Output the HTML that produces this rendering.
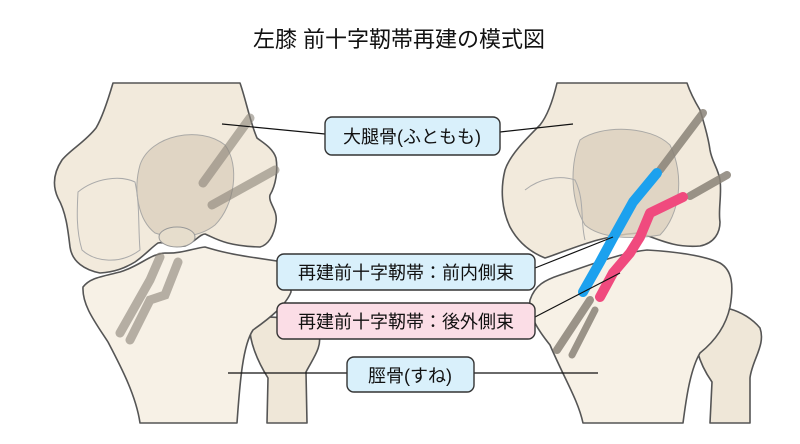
<!DOCTYPE html>
<html><head><meta charset="utf-8"><style>
body{margin:0;background:#fff;}
svg{display:block;}
text{font-family:"Liberation Sans","Noto Sans CJK JP",sans-serif;}
</style></head><body>
<svg width="800" height="444" viewBox="0 0 800 444" xmlns="http://www.w3.org/2000/svg">
<rect width="800" height="444" fill="#fff"/>
<text x="399" y="47" font-size="22" text-anchor="middle" fill="#111">左膝 前十字靭帯再建の模式図</text>

<!-- LEFT KNEE -->
<g stroke="#555" stroke-width="1.6" stroke-linejoin="round">
 <path d="M250,322 C262,312 300,318 318,333 C324,345 312,360 306,372 L307,423 L267,423 L268,378 C258,362 248,340 250,322 Z" fill="#efe7d8"/>
 <path d="M83,287 C90,278 100,277 120,272 C140,266 150,254 165,253 C180,254 195,248 205,247 C215,250 225,253 250,257 L290,263 L291,292 C286,305 270,318 253,330 C243,345 240,380 237,423 L140,423 C136,395 120,365 108,342 C95,322 82,305 83,287 Z" fill="#f7f1e6"/>
 <path d="M113,83 C108,100 102,118 96,128 C85,142 70,150 62,160 C54,172 52,185 58,198 C66,212 68,230 70,247 C72,262 85,270 100,273 C115,272 125,268 135,262 C145,255 152,247 158,243 C165,241 175,248 185,246 C195,242 200,234 205,234 C215,238 225,246 260,247 C268,245 274,236 276,222 C278,210 268,203 270,195 C276,185 278,170 276,158 C273,148 262,142 257,138 C250,122 246,100 240,83 Z" fill="#f2eadc"/>
</g>
<path d="M140,165 C150,135 200,125 225,145 C240,165 235,205 215,225 C200,237 175,240 155,233 C138,220 133,190 140,165 Z" fill="#dcd1bf" opacity="0.8" stroke="#999" stroke-width="1"/>
<path d="M78,192 C95,178 120,175 135,182 C140,205 138,225 140,250 C120,265 95,262 82,250 C76,230 77,210 78,192 Z" fill="none" stroke="#aaa" stroke-width="1"/>
<ellipse cx="177" cy="237" rx="18" ry="10" fill="#e6ddcc" stroke="#999" stroke-width="1"/>
<g stroke="#8a8378" stroke-width="9" stroke-linecap="round" opacity="0.6" fill="none">
 <line x1="203" y1="183" x2="250" y2="118"/>
 <line x1="212" y1="205" x2="275" y2="170"/>
 <path d="M160,257 L150,280 L120,333"/>
 <path d="M178,262 L165,295 L150,300 L130,340"/>
</g>

<!-- RIGHT KNEE -->
<g stroke="#555" stroke-width="1.6" stroke-linejoin="round">
 <path d="M697,313 C715,300 745,310 760,328 C766,345 752,360 750,378 L750,423 L710,423 L712,382 C700,365 690,340 697,313 Z" fill="#efe7d8"/>
 <path d="M530,300 C535,285 545,280 560,275 C590,265 620,253 647,250 C680,252 705,256 720,263 C732,270 734,285 730,307 C725,330 710,345 700,353 C690,370 686,400 683,423 L583,423 C578,400 565,380 550,345 C538,330 528,315 530,300 Z" fill="#f7f1e6"/>
 <path d="M557,83 C553,100 548,115 540,125 C525,140 510,155 505,170 C500,190 502,210 510,227 C518,242 530,252 545,258 C570,250 600,235 640,233 C660,240 675,248 700,246 C715,243 720,232 720,222 C718,210 722,195 720,180 C718,168 712,162 710,150 C708,135 703,120 700,110 C694,100 690,92 687,83 Z" fill="#f2eadc"/>
</g>
<path d="M580,140 C600,125 650,125 670,145 C685,175 680,215 660,235 C630,240 600,238 585,225 C570,200 570,165 580,140 Z" fill="#dcd1bf" opacity="0.8" stroke="#999" stroke-width="1"/>
<path d="M525,190 C540,178 560,175 575,180 C585,200 580,220 585,240" fill="none" stroke="#aaa" stroke-width="1"/>
<g stroke="#8a8378" stroke-linecap="round" fill="none" opacity="0.85">
 <line x1="703" y1="113" x2="660" y2="170" stroke-width="8"/>
 <line x1="727" y1="175" x2="690" y2="196" stroke-width="8"/>
 <line x1="590" y1="300" x2="557" y2="350" stroke-width="8"/>
 <line x1="595" y1="310" x2="572" y2="355" stroke-width="7"/>
</g>
<path d="M657,173 L633,202 L613,238 L600,262 L583,292" fill="none" stroke="#1ca1ee" stroke-width="10" stroke-linecap="round" stroke-linejoin="round"/>
<path d="M683,197 L650,213 L640,237 L630,253 L613,273 L600,297" fill="none" stroke="#f04a7e" stroke-width="10" stroke-linecap="round" stroke-linejoin="round"/>

<g stroke="#111" stroke-width="1.2">
 <line x1="222" y1="124" x2="325" y2="134"/>
 <line x1="500" y1="132" x2="573" y2="124"/>
 <line x1="535" y1="268" x2="613" y2="237"/>
 <line x1="535" y1="317" x2="620" y2="273"/>
 <line x1="228" y1="373" x2="347" y2="373"/>
 <line x1="474" y1="373" x2="598" y2="373"/>
</g>

<g stroke="#333" stroke-width="1.4">
 <rect x="325" y="117" width="175" height="38" rx="7" fill="#d9f0fb"/>
 <rect x="277" y="254" width="258" height="36" rx="7" fill="#d9f0fb"/>
 <rect x="277" y="303" width="258" height="36" rx="7" fill="#fbdde6"/>
 <rect x="347" y="357" width="127" height="35" rx="7" fill="#d9f0fb"/>
</g>
<g font-size="18" fill="#111" text-anchor="middle">
 <text x="412" y="143">大腿骨(ふともも)</text>
 <text x="406" y="279">再建前十字靭帯：前内側束</text>
 <text x="406" y="328">再建前十字靭帯：後外側束</text>
 <text x="410" y="382">脛骨(すね)</text>
</g>
</svg>
</body></html>
